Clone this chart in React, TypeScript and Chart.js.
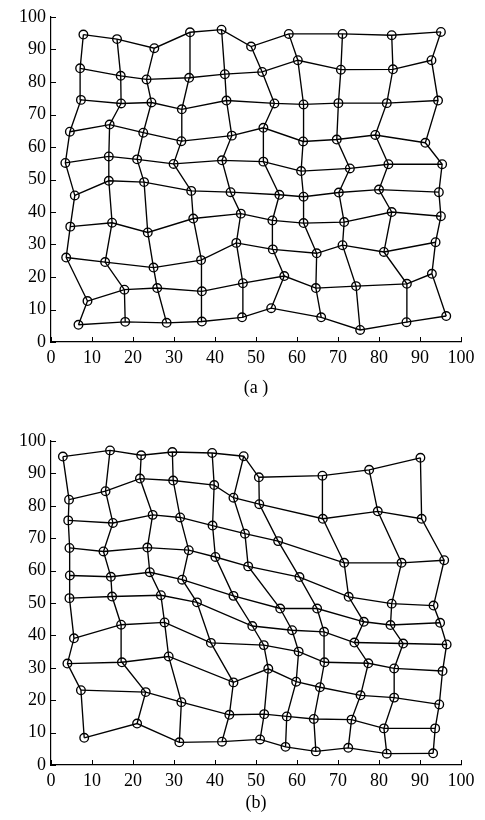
import React, { useEffect, useRef } from "react";
import { Chart, registerables } from "chart.js";

Chart.register(...registerables);

// Panel (a): node coordinates, rows from bottom (row 0) to top (row 9), 10 columns each
const aX: number[][] = [
  [6.7, 18.1, 28.2, 36.8, 46.6, 53.7, 65.9, 75.4, 86.7, 96.4],
  [8.9, 17.9, 25.9, 36.8, 46.8, 56.9, 64.6, 74.4, 86.8, 92.9],
  [3.7, 13.2, 25.0, 36.6, 45.2, 54.1, 64.8, 71.1, 81.2, 93.8],
  [4.7, 14.9, 23.6, 34.7, 46.3, 54.0, 61.6, 71.5, 83.1, 95.1],
  [5.8, 14.1, 22.7, 34.2, 43.8, 55.7, 61.6, 70.2, 80.0, 94.6],
  [3.5, 14.1, 21.0, 29.9, 41.7, 51.8, 61.0, 72.9, 82.3, 95.4],
  [4.6, 14.3, 22.5, 31.8, 44.1, 51.8, 61.5, 69.7, 79.1, 91.3],
  [7.3, 17.1, 24.5, 31.9, 42.8, 54.5, 61.6, 70.1, 81.9, 94.4],
  [7.1, 17.0, 23.3, 33.7, 42.4, 51.5, 60.2, 70.7, 83.4, 92.8],
  [7.9, 16.1, 25.2, 33.9, 41.6, 48.8, 58.0, 71.1, 83.1, 95.1],
];
const aY: number[][] = [
  [5.3, 6.2, 5.9, 6.3, 7.6, 10.4, 7.6, 3.7, 6.1, 8.0],
  [12.6, 16.1, 16.6, 15.6, 18.1, 20.3, 16.6, 17.2, 17.9, 21.0],
  [26.0, 24.6, 22.9, 25.2, 30.5, 28.5, 27.3, 29.8, 27.7, 30.7],
  [35.5, 36.7, 33.7, 38.0, 39.5, 37.4, 36.6, 36.9, 40.0, 38.7],
  [45.1, 49.6, 49.2, 46.5, 46.1, 45.3, 44.7, 46.0, 46.9, 46.1],
  [55.1, 57.1, 56.2, 54.8, 55.9, 55.5, 52.6, 53.4, 54.7, 54.7],
  [64.7, 66.9, 64.4, 61.8, 63.5, 65.9, 61.7, 62.3, 63.7, 61.3],
  [74.5, 73.4, 73.7, 71.6, 74.3, 73.4, 73.1, 73.5, 73.5, 74.3],
  [84.2, 81.9, 80.8, 81.3, 82.4, 83.1, 86.7, 83.8, 83.9, 86.7],
  [94.6, 93.2, 90.4, 95.3, 96.1, 90.9, 94.8, 94.8, 94.4, 95.4],
];

// Panel (b)
const bX: number[][] = [
  [8.1, 21.0, 31.3, 41.7, 51.0, 57.2, 64.6, 72.5, 81.9, 93.2],
  [7.3, 23.1, 31.8, 43.5, 52.0, 57.5, 64.1, 73.3, 81.2, 93.7],
  [4.0, 17.3, 28.7, 44.5, 53.0, 59.8, 65.6, 75.5, 83.7, 94.7],
  [5.6, 17.1, 27.7, 39.0, 51.9, 60.4, 66.7, 77.4, 83.7, 95.5],
  [4.5, 14.9, 26.8, 35.6, 49.1, 58.8, 66.6, 74.0, 85.9, 96.5],
  [4.6, 14.6, 24.1, 32.0, 44.5, 55.9, 64.9, 76.3, 82.8, 94.9],
  [4.5, 12.8, 23.5, 33.6, 40.1, 48.1, 60.6, 72.6, 83.1, 93.3],
  [4.2, 15.1, 24.8, 31.5, 39.4, 47.3, 55.4, 71.5, 85.5, 95.9],
  [4.4, 13.3, 21.7, 29.8, 39.8, 44.5, 50.8, 66.3, 79.7, 90.4],
  [2.9, 14.4, 22.0, 29.6, 39.3, 47.0, 50.7, 66.2, 77.6, 90.1],
];
const bY: number[][] = [
  [8.4, 12.8, 7.0, 7.2, 7.9, 5.6, 4.2, 5.3, 3.5, 3.6],
  [23.1, 22.5, 19.4, 15.5, 15.7, 15.0, 14.2, 14.0, 11.3, 11.3],
  [31.3, 31.7, 33.5, 25.5, 29.7, 25.7, 24.0, 21.5, 20.8, 18.7],
  [39.1, 43.3, 44.0, 37.7, 37.0, 35.0, 31.7, 31.4, 29.8, 29.0],
  [51.5, 52.0, 52.4, 50.2, 42.9, 41.6, 41.1, 37.8, 37.5, 37.2],
  [58.5, 58.1, 59.5, 57.2, 52.2, 48.3, 48.3, 44.2, 43.2, 43.9],
  [67.0, 65.9, 67.1, 66.3, 64.2, 61.3, 58.0, 51.9, 49.8, 49.2],
  [75.5, 74.7, 77.2, 76.4, 73.9, 71.4, 69.1, 62.4, 62.4, 63.2],
  [81.9, 84.5, 88.4, 87.8, 86.4, 82.5, 80.5, 76.0, 78.3, 76.0],
  [95.2, 97.1, 95.6, 96.6, 96.3, 95.3, 88.8, 89.3, 91.1, 94.8],
];

const tickValues = [0, 10, 20, 30, 40, 50, 60, 70, 80, 90, 100];
const captionA = "(a )";
const captionB = "(b)";

const FONT = "'Liberation Serif', 'DejaVu Serif', serif";

function buildDatasets(xs: number[][], ys: number[][]) {
  const ds: any[] = [];
  const lineStyle = {
    showLine: true,
    pointRadius: 0,
    pointHoverRadius: 0,
    borderColor: "#000",
    borderWidth: 1.35,
    fill: false,
    tension: 0,
    order: 1,
  };
  for (let r = 0; r < xs.length; r++) {
    ds.push({ ...lineStyle, data: xs[r].map((x, c) => ({ x, y: ys[r][c] })) });
  }
  for (let c = 0; c < xs[0].length; c++) {
    ds.push({ ...lineStyle, data: xs.map((row, r) => ({ x: row[c], y: ys[r][c] })) });
  }
  const pts: { x: number; y: number }[] = [];
  xs.forEach((row, r) => row.forEach((x, c) => pts.push({ x, y: ys[r][c] })));
  ds.push({
    data: pts,
    showLine: false,
    pointRadius: 4.3,
    pointHoverRadius: 4.3,
    pointStyle: "circle",
    pointBorderWidth: 1.35,
    pointBorderColor: "#000",
    pointBackgroundColor: "rgba(0,0,0,0)",
    order: 0,
  });
  return ds;
}

function makeConfig(xs: number[][], ys: number[][], padTop: number, padBottom: number, caption: string, capOffset: number) {
  const innerTicks = {
    id: "innerTicks",
    afterDraw(chart: any) {
      const { ctx, chartArea, scales } = chart;
      ctx.save();
      ctx.strokeStyle = "#000";
      ctx.lineWidth = 1;
      ctx.beginPath();
      tickValues.forEach((v) => {
        const px = Math.round(scales.x.getPixelForValue(v)) + 0.5;
        ctx.moveTo(px, chartArea.bottom);
        ctx.lineTo(px, chartArea.bottom - 5);
        const py = Math.round(scales.y.getPixelForValue(v)) + 0.5;
        ctx.moveTo(chartArea.left, py);
        ctx.lineTo(chartArea.left + 5, py);
      });
      ctx.stroke();
      ctx.fillStyle = "#000";
      ctx.font = `18px ${FONT}`;
      ctx.textAlign = "center";
      ctx.textBaseline = "middle";
      ctx.fillText(caption, (chartArea.left + chartArea.right) / 2, chartArea.bottom + capOffset);
      ctx.restore();
    },
  };
  const tickFont = { family: FONT, size: 18 };
  return {
    type: "scatter" as const,
    data: { datasets: buildDatasets(xs, ys) },
    options: {
      animation: false,
      responsive: false,
      events: [],
      layout: { padding: { top: padTop, right: 24, bottom: padBottom, left: 0 } },
      plugins: { legend: { display: false }, tooltip: { enabled: false } },
      scales: {
        x: {
          type: "linear",
          min: 0,
          max: 100,
          grid: { display: false, drawTicks: false },
          border: { display: true, color: "#000", width: 1.2 },
          ticks: {
            stepSize: 10,
            autoSkip: false,
            maxRotation: 0,
            padding: 5,
            color: "#000",
            font: tickFont,
          },
          afterFit: (s: any) => {
            s.height = 40;
          },
        },
        y: {
          type: "linear",
          min: 0,
          max: 100,
          grid: { display: false, drawTicks: false },
          border: { display: true, color: "#000", width: 1.2 },
          ticks: {
            stepSize: 10,
            autoSkip: false,
            padding: 5,
            color: "#000",
            font: tickFont,
          },
          afterFit: (s: any) => {
            s.width = 51;
          },
        },
      },
    },
    plugins: [innerTicks],
  };
}

export default function App() {
  const refA = useRef<HTMLCanvasElement>(null);
  const refB = useRef<HTMLCanvasElement>(null);
  useEffect(() => {
    const ca = new Chart(refA.current as HTMLCanvasElement, makeConfig(aX, aY, 17, 28, captionA, 46) as any);
    const cb = new Chart(refB.current as HTMLCanvasElement, makeConfig(bX, bY, 31, 15, captionB, 38) as any);
    return () => {
      ca.destroy();
      cb.destroy();
    };
  }, []);
  return (
    <div style={{ position: "absolute", left: 0, top: 0, width: 485, height: 820, background: "#fff" }}>
      <canvas ref={refA} width={485} height={410} style={{ position: "absolute", left: 0, top: 0, width: 485, height: 410 }} />
      <canvas ref={refB} width={485} height={410} style={{ position: "absolute", left: 0, top: 410, width: 485, height: 410 }} />
    </div>
  );
}
